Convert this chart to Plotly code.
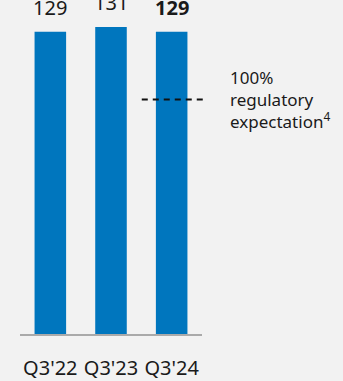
import plotly.graph_objects as go

categories = ["Q3'22", "Q3'23", "Q3'24"]
values = [129, 131, 129]
label_bold = [False, False, True]
reg_expectation = 100
reg_label = "100%<br>regulatory<br>expectation<sup>4</sup>"

FONT = "Noto Sans"
fig = go.Figure()
fig.add_trace(go.Bar(
    x=categories, y=values, marker=dict(color="#0076BE", line=dict(width=0)),
    width=0.52, cliponaxis=False, hoverinfo="skip",
))

for c, v, b in zip(categories, values, label_bold):
    fig.add_annotation(
        x=c, y=v, xref="x", yref="y", yanchor="bottom", yshift=9,
        text=f"<b>{v}</b>" if b else str(v), showarrow=False,
        font=dict(family=FONT, size=20, color="#1a1a1a"),
    )

fig.add_shape(type="line", xref="paper", yref="y", x0=0.669, x1=1.025,
              y0=reg_expectation, y1=reg_expectation,
              line=dict(color="#111111", width=2, dash="6px,5px"))
fig.add_annotation(
    xref="paper", yref="y", x=1.145, y=reg_expectation, xanchor="left", yanchor="middle",
    align="left", text=reg_label, showarrow=False,
    font=dict(family=FONT, size=17, color="#1a1a1a"),
)

fig.update_layout(
    width=343, height=381, paper_bgcolor="#f2f2f2", plot_bgcolor="#f2f2f2",
    margin=dict(l=19.5, r=140.5, t=0, b=44), showlegend=False,
    xaxis=dict(range=[-0.5, 2.5], showgrid=False, showline=True, linecolor="#aaaaaa",
               linewidth=2, ticks="", tickfont=dict(family=FONT, size=20, color="#1a1a1a"),
               ticklabelstandoff=15),
    yaxis=dict(range=[0, 142.5], visible=False),
)
fig.write_html("out.html")
